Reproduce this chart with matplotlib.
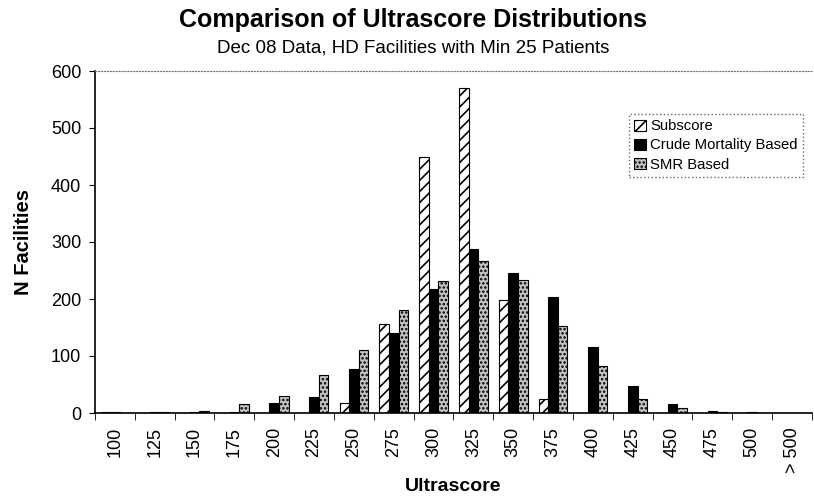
import matplotlib
matplotlib.use("Agg")
import matplotlib.pyplot as plt
import numpy as np

plt.rcParams['font.family'] = ['Liberation Sans', 'DejaVu Sans']
plt.rcParams['hatch.linewidth'] = 1.2

categories = ["100", "125", "150", "175", "200", "225", "250", "275", "300",
              "325", "350", "375", "400", "425", "450", "475", "500", "> 500"]
subscore = [1, 0, 0, 0, 0, 0, 18, 156, 449, 570, 198, 25, 0, 0, 0, 0, 0, 0]
crude = [1, 1, 1, 2, 18, 28, 77, 140, 217, 288, 245, 204, 116, 47, 16, 4, 1, 0]
smr = [0, 1, 3, 16, 30, 67, 110, 181, 232, 266, 233, 153, 82, 25, 9, 2, 0, 0]

fig = plt.figure(figsize=(8.14, 4.99), dpi=100)
ax = fig.add_axes([95/814, 1-413/499, (812-95)/814, (413-71)/499])

x = np.arange(len(categories))
w = 0.24
ax.bar(x - w, subscore, w, facecolor='white', edgecolor='black', hatch='///', linewidth=0.8, label='Subscore')
ax.bar(x, crude, w, facecolor='black', edgecolor='black', linewidth=0.8, label='Crude Mortality Based')
ax.bar(x + w, smr, w, facecolor='#c4c4c4', edgecolor='black', hatch='....', linewidth=0.8, label='SMR Based')

ax.set_xlim(-0.5, len(categories) - 0.5)
ax.set_ylim(0, 600)
ax.set_yticks(range(0, 601, 100))
ax.set_xticks(x)
ax.set_xticklabels(categories, rotation=90, fontsize=13)
ax.tick_params(axis='x', length=0, pad=10)
ax.set_xticks(np.arange(-0.5, len(categories), 1), minor=True)
ax.tick_params(axis='x', which='minor', length=5, direction='out')
ax.tick_params(axis='y', labelsize=13, length=4, direction='out', pad=6)

ax.spines['right'].set_visible(False)
ax.spines['top'].set_linestyle(':')
ax.spines['top'].set_color('#777777')
ax.spines['left'].set_linewidth(1.2)
ax.spines['bottom'].set_linewidth(1.2)

ax.set_xlabel('Ultrascore', fontsize=14, fontweight='bold', labelpad=4)
ax.set_ylabel('N Facilities', fontsize=14.5, fontweight='bold', labelpad=13)

fig.text(413/814, 1 - 20/499, 'Comparison of Ultrascore Distributions', ha='center', va='center',
         fontsize=18, fontweight='bold')
fig.text(413/814, 1 - 48/499, 'Dec 08 Data, HD Facilities with Min 25 Patients', ha='center', va='center',
         fontsize=13.5)

leg = ax.legend(loc='upper right', bbox_to_anchor=(0.987, 0.874), fontsize=10.7,
                frameon=True, fancybox=False, handlelength=0.75, handleheight=0.75,
                handletextpad=0.3, borderpad=0.35, labelspacing=0.35, borderaxespad=0)
leg.get_frame().set_edgecolor('#444444')
leg.get_frame().set_linestyle(':')
leg.get_frame().set_linewidth(1.0)

fig.savefig('out.png', dpi=100)
